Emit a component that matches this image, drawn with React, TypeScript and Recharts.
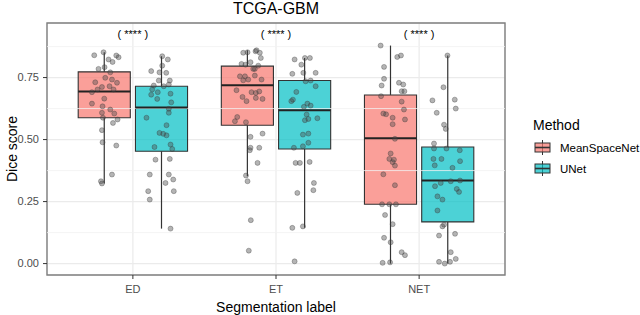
import React from 'react';
import {
  ComposedChart,
  Scatter,
  XAxis,
  YAxis,
  CartesianGrid,
  ReferenceArea,
  ReferenceLine,
  Legend,
} from 'recharts';

const FONT = '"Liberation Sans", Arial, Helvetica, sans-serif';

const categories = ['ED', 'ET', 'NET'];
const methods = ['MeanSpaceNet', 'UNet'];
const methodColors = ['#F8766D', '#00BFC4'];
const yTicks = [0, 0.25, 0.5, 0.75];
const yMinorTicks = [0.125, 0.375, 0.625, 0.875];
const significance = ['( **** )', '( **** )', '( **** )'];
const significanceY = 0.927;
const yDomain = [-0.046, 0.97];
const xDomain = [0.4, 3.6];
const dodge = [-0.2, 0.2];
const boxHalf = 0.182;

// boxplot statistics per category (ED, ET, NET)
const msnMin = [0.323, 0.352, 0.0];
const msnQ1 = [0.588, 0.558, 0.239];
const msnMedian = [0.694, 0.719, 0.505];
const msnQ3 = [0.773, 0.796, 0.68];
const msnMax = [0.852, 0.86, 0.879];
const unetMin = [0.141, 0.144, 0.0];
const unetQ1 = [0.453, 0.462, 0.168];
const unetMedian = [0.629, 0.618, 0.335];
const unetQ3 = [0.715, 0.738, 0.47];
const unetMax = [0.836, 0.829, 0.839];

// jittered observations (score, horizontal jitter in category units)
const edMsnScore = [0.84, 0.852, 0.823, 0.813, 0.839, 0.832, 0.785, 0.792, 0.771, 0.749, 0.742, 0.731, 0.729, 0.712, 0.715, 0.702, 0.691, 0.702, 0.645, 0.665, 0.634, 0.621, 0.608, 0.605, 0.588, 0.581, 0.567, 0.538, 0.489, 0.476, 0.359, 0.332, 0.323];
const edMsnJitter = [-0.07, -0.005, 0.03, 0.058, 0.084, 0.1, -0.04, 0.002, 0.042, 0.007, 0.054, -0.063, 0.089, -0.016, 0.037, 0.065, -0.086, -0.047, -0.086, 0, -0.012, 0.042, -0.016, 0.07, -0.009, 0.093, 0.061, -0.016, -0.012, 0.084, 0.054, -0.023, -0.016];

const edUnetScore = [0.836, 0.823, 0.798, 0.776, 0.771, 0.769, 0.738, 0.738, 0.715, 0.722, 0.718, 0.702, 0.691, 0.681, 0.685, 0.664, 0.65, 0.624, 0.608, 0.588, 0.558, 0.527, 0.523, 0.517, 0.47, 0.48, 0.462, 0.419, 0.422, 0.359, 0.359, 0.339, 0.325, 0.292, 0.292, 0.258, 0.141];
const edUnetJitter = [0.005, 0.044, 0.005, -0.072, -0.014, 0.033, -0.019, 0.058, 0.016, 0.051, -0.054, -0.065, -0.026, -0.072, 0.063, -0.03, 0.068, 0.051, 0.051, -0.105, 0.035, -0.014, 0.012, 0.035, -0.049, 0.063, 0.075, -0.042, 0.058, -0.082, 0.051, 0.082, 0.028, -0.093, 0.086, -0.082, 0.063];

const etMsnScore = [0.85, 0.852, 0.856, 0.86, 0.85, 0.829, 0.805, 0.802, 0.812, 0.785, 0.798, 0.785, 0.755, 0.755, 0.739, 0.742, 0.758, 0.742, 0.699, 0.691, 0.688, 0.694, 0.672, 0.668, 0.664, 0.655, 0.591, 0.574, 0.57, 0.511, 0.524, 0.467, 0.457, 0.467, 0.406, 0.355, 0.332, 0.175, 0.052];
const etMsnJitter = [-0.029, 0.001, 0.057, 0.064, 0.087, 0.094, -0.041, -0.013, 0.022, 0.052, 0.076, 0.041, -0.052, -0.017, -0.029, 0.006, 0.052, 0.099, -0.076, 0.029, 0.059, 0.083, -0.034, 0.059, 0.106, -0.006, -0.071, -0.087, -0.01, 0.022, 0.106, 0.022, 0.017, 0.083, 0.071, -0.01, 0.001, 0.024, 0.01];

const etUnetScore = [0.823, 0.829, 0.829, 0.802, 0.765, 0.769, 0.769, 0.735, 0.738, 0.715, 0.692, 0.661, 0.655, 0.645, 0.637, 0.632, 0.601, 0.586, 0.578, 0.583, 0.52, 0.524, 0.487, 0.473, 0.467, 0.406, 0.406, 0.41, 0.325, 0.285, 0.296, 0.144, 0.15, 0.009];
const etUnetJitter = [-0.07, 0.002, 0.037, -0.023, -0.086, -0.009, 0.077, 0.007, 0.042, 0.077, -0.058, -0.082, -0.093, 0.019, 0.042, -0.005, 0.014, 0.089, 0.002, 0.026, -0.012, 0.026, 0.026, -0.012, -0.075, -0.063, -0.033, 0.035, 0.065, -0.051, 0.061, -0.086, -0.012, -0.07];

const netMsnScore = [0.879, 0.833, 0.839, 0.793, 0.745, 0.729, 0.722, 0.718, 0.695, 0.695, 0.675, 0.653, 0.621, 0.605, 0.602, 0.588, 0.581, 0.562, 0.503, 0.444, 0.422, 0.419, 0.409, 0.395, 0.36, 0.316, 0.239, 0.239, 0.239, 0.196, 0.159, 0.104, 0.086, 0.046, 0.034, 0.003, 0.005];
const netMsnJitter = [-0.069, 0.047, 0.073, -0.045, -0.045, 0.059, 0.089, -0.062, 0.078, 0.097, -0.066, 0.078, 0.094, -0.05, -0.031, 0.015, 0.101, 0.015, 0.031, 0.001, -0.008, 0.024, 0.015, 0.031, -0.05, 0.031, -0.059, -0.008, 0.038, -0.038, 0.015, -0.045, 0.001, 0.078, 0.101, -0.055, -0.003];

const netUnetScore = [0.839, 0.711, 0.658, 0.661, 0.625, 0.608, 0.56, 0.543, 0.484, 0.464, 0.464, 0.457, 0.422, 0.422, 0.413, 0.396, 0.386, 0.325, 0.332, 0.335, 0.312, 0.301, 0.289, 0.271, 0.258, 0.214, 0.157, 0.15, 0.12, 0.113, 0.046, 0.019, 0.007, 0.0, 0.007];
const netUnetJitter = [-0.002, -0.03, -0.107, 0.049, 0.056, -0.077, -0.026, -0.014, -0.096, -0.096, -0.009, 0.084, -0.1, -0.044, 0.086, -0.091, 0.033, -0.049, 0.021, 0.086, -0.089, 0.063, 0.079, -0.072, -0.037, -0.072, -0.026, -0.037, 0.051, -0.061, 0.021, 0.056, -0.061, -0.021, 0.016];

const groups = [
  { cat: 0, m: 0, score: edMsnScore, jitter: edMsnJitter },
  { cat: 0, m: 1, score: edUnetScore, jitter: edUnetJitter },
  { cat: 1, m: 0, score: etMsnScore, jitter: etMsnJitter },
  { cat: 1, m: 1, score: etUnetScore, jitter: etUnetJitter },
  { cat: 2, m: 0, score: netMsnScore, jitter: netMsnJitter },
  { cat: 2, m: 1, score: netUnetScore, jitter: netUnetJitter },
];

const points = groups.flatMap((g) =>
  g.score.map((s, i) => ({ x: g.cat + 1 + dodge[g.m] + g.jitter[i], y: s }))
);

const boxes = categories.flatMap((c, i) => [
  { center: i + 1 + dodge[0], m: 0, lo: msnMin[i], q1: msnQ1[i], med: msnMedian[i], q3: msnQ3[i], hi: msnMax[i] },
  { center: i + 1 + dodge[1], m: 1, lo: unetMin[i], q1: unetQ1[i], med: unetMedian[i], q3: unetQ3[i], hi: unetMax[i] },
]);

const sigData = categories.map((c, i) => ({ x: i + 1, y: significanceY, label: significance[i] }));

const PointShape = (p: any) => (
  <circle cx={p.cx} cy={p.cy} r={2.5} fill="#4d4d4d" fillOpacity={0.42} stroke="#333" strokeOpacity={0.55} strokeWidth={0.6} />
);

const SigShape = (p: any) => (
  <text x={p.cx} y={p.cy} textAnchor="middle" dominantBaseline="central" fontSize={11} fontFamily={FONT} fill="#000" stroke="none">
    {p.payload.label}
  </text>
);

const LegendKey = ({ color }: { color: string }) => (
  <svg width={17} height={17} style={{ display: 'block' }}>
    <line x1={8.5} x2={8.5} y1={1} y2={16} stroke="#333" strokeWidth={1} />
    <rect x={1} y={4} width={15} height={9} fill={color} fillOpacity={0.7} stroke="#333" strokeWidth={1} />
    <line x1={1} x2={16} y1={8.5} y2={8.5} stroke="#333" strokeWidth={1.6} />
  </svg>
);

const renderLegend = () => (
  <div style={{ fontFamily: FONT, color: '#000' }}>
    <div style={{ fontSize: 14, lineHeight: '16px', height: 16 }}>Method</div>
    <div style={{ height: 4 }} />
    {methods.map((m, i) => (
      <div key={m} style={{ display: 'flex', alignItems: 'center', height: 21 }}>
        <div style={{ marginLeft: 1 }}>
          <LegendKey color={methodColors[i]} />
        </div>
        <span style={{ marginLeft: 9, fontSize: 11.5 }}>{m}</span>
      </div>
    ))}
  </div>
);

export default function App() {
  return (
    <div style={{ position: 'absolute', left: 0, top: 0, width: 640, height: 315, background: '#fff' }}>
      <div
        style={{
          position: 'absolute',
          left: 47,
          width: 458,
          top: 0,
          textAlign: 'center',
          fontFamily: FONT,
          fontSize: 16,
          color: '#000',
          lineHeight: 'normal',
        }}
      >
        TCGA-GBM
      </div>
      <ComposedChart width={640} height={315} margin={{ top: 23, right: 135, bottom: 0, left: 0 }}>
        <CartesianGrid stroke="#EBEBEB" strokeWidth={1.2} />
        {yMinorTicks.map((v) => (
          <ReferenceLine key={'mn' + v} y={v} stroke="#F3F3F3" strokeWidth={0.8} />
        ))}
        <XAxis
          type="number"
          dataKey="x"
          domain={xDomain}
          allowDataOverflow
          ticks={[1, 2, 3]}
          tickFormatter={(v: number) => categories[Math.round(v) - 1]}
          height={40}
          axisLine={false}
          tickLine={{ stroke: '#333', strokeWidth: 1 }}
          tickSize={4}
          tickMargin={6}
          tick={{ fill: '#4D4D4D', fontSize: 11, fontFamily: FONT }}
          label={{ value: 'Segmentation label', position: 'insideBottom', offset: 3, style: { fontSize: 14, fontFamily: FONT, fill: '#000' } }}
        />
        <YAxis
          type="number"
          dataKey="y"
          domain={yDomain}
          allowDataOverflow
          ticks={yTicks}
          tickFormatter={(v: number) => v.toFixed(2)}
          width={47}
          axisLine={false}
          tickLine={{ stroke: '#333', strokeWidth: 1 }}
          tickSize={4}
          tickMargin={4}
          tick={{ fill: '#4D4D4D', fontSize: 11, fontFamily: FONT }}
          label={{ value: 'Dice score', angle: -90, position: 'insideLeft', offset: 12, style: { textAnchor: 'middle', fontSize: 14, fontFamily: FONT, fill: '#000' } }}
        />
        {boxes.map((b, i) => (
          <ReferenceLine key={'wl' + i} segment={[{ x: b.center, y: b.lo }, { x: b.center, y: b.q1 }]} stroke="#333" strokeWidth={1.2} />
        ))}
        {boxes.map((b, i) => (
          <ReferenceLine key={'wh' + i} segment={[{ x: b.center, y: b.q3 }, { x: b.center, y: b.hi }]} stroke="#333" strokeWidth={1.2} />
        ))}
        {boxes.map((b, i) => (
          <ReferenceArea
            key={'bx' + i}
            x1={b.center - boxHalf}
            x2={b.center + boxHalf}
            y1={b.q1}
            y2={b.q3}
            fill={methodColors[b.m]}
            fillOpacity={0.7}
            stroke="#333"
            strokeWidth={1.1}
            strokeOpacity={1}
          />
        ))}
        {boxes.map((b, i) => (
          <ReferenceLine key={'md' + i} segment={[{ x: b.center - boxHalf, y: b.med }, { x: b.center + boxHalf, y: b.med }]} stroke="#222" strokeWidth={2} />
        ))}
        <ReferenceArea
          x1={xDomain[0]}
          x2={xDomain[1]}
          y1={yDomain[0]}
          y2={yDomain[1]}
          fill="none"
          fillOpacity={0}
          stroke="#7f7f7f"
          strokeWidth={1.4}
          strokeOpacity={1}
        />
        <Scatter data={points} dataKey="y" shape={PointShape} isAnimationActive={false} />
        <Scatter data={sigData} dataKey="y" shape={SigShape} isAnimationActive={false} />
        <Legend
          layout="vertical"
          align="center"
          verticalAlign="middle"
          content={renderLegend}
          wrapperStyle={{ left: 533, top: 117, width: 107, height: 62 }}
        />
      </ComposedChart>
    </div>
  );
}
